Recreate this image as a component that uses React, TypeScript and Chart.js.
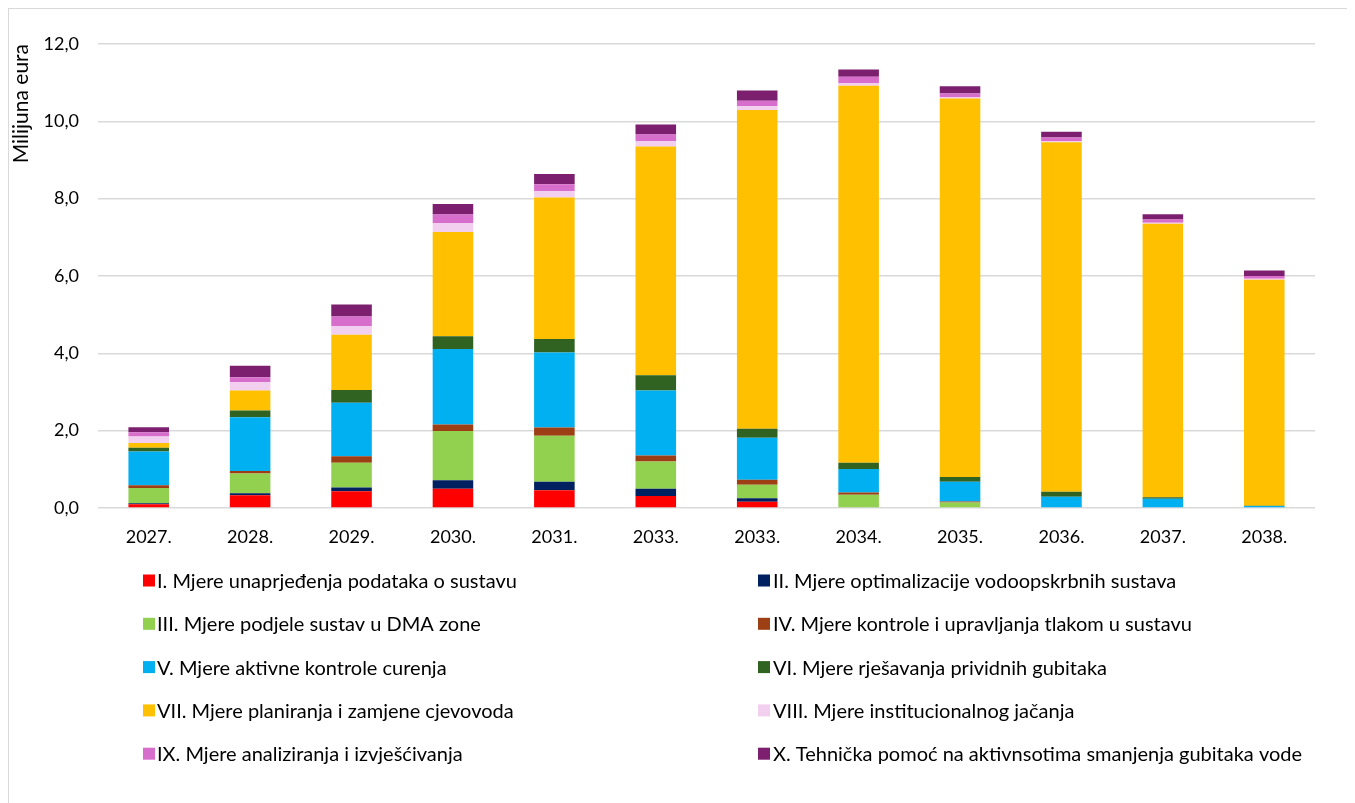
import React, { useEffect, useRef } from "react";
import { Chart, registerables } from "chart.js";

Chart.register(...registerables);

const years = ["2027.", "2028.", "2029.", "2030.", "2031.", "2033.", "2033.", "2034.", "2035.", "2036.", "2037.", "2038."];

const seriesNames = [
  "I. Mjere unaprjeđenja podataka o sustavu",
  "II. Mjere optimalizacije vodoopskrbnih sustava",
  "III. Mjere podjele sustav u DMA zone",
  "IV. Mjere kontrole i upravljanja tlakom u sustavu",
  "V. Mjere aktivne kontrole curenja",
  "VI. Mjere rješavanja prividnih gubitaka",
  "VII. Mjere planiranja i zamjene cjevovoda",
  "VIII. Mjere institucionalnog jačanja",
  "IX. Mjere analiziranja i izvješćivanja",
  "X. Tehnička pomoć na aktivnsotima smanjenja gubitaka vode",
];

const mjereI = [0.1, 0.33, 0.43, 0.5, 0.46, 0.31, 0.16, 0, 0, 0, 0, 0];
const mjereII = [0.02, 0.05, 0.1, 0.22, 0.22, 0.19, 0.09, 0, 0, 0, 0, 0];
const mjereIII = [0.4, 0.51, 0.64, 1.27, 1.19, 0.7, 0.35, 0.34, 0.14, 0.02, 0, 0];
const mjereIV = [0.07, 0.07, 0.17, 0.17, 0.21, 0.16, 0.13, 0.06, 0.03, 0, 0, 0];
const mjereV = [0.87, 1.39, 1.38, 1.95, 1.94, 1.68, 1.09, 0.61, 0.51, 0.27, 0.24, 0.05];
const mjereVI = [0.1, 0.17, 0.33, 0.33, 0.35, 0.39, 0.23, 0.16, 0.12, 0.13, 0.04, 0.01];
const mjereVII = [0.12, 0.52, 1.43, 2.7, 3.66, 5.92, 8.24, 9.75, 9.79, 9.04, 7.07, 5.84];
const mjereVIII = [0.17, 0.21, 0.23, 0.23, 0.16, 0.14, 0.1, 0.07, 0.04, 0.03, 0.03, 0.03];
const mjereIX = [0.11, 0.13, 0.24, 0.22, 0.18, 0.17, 0.14, 0.16, 0.09, 0.09, 0.08, 0.07];
const mjereX = [0.13, 0.3, 0.31, 0.27, 0.27, 0.26, 0.27, 0.19, 0.19, 0.15, 0.14, 0.14];

const seriesValues = [mjereI, mjereII, mjereIII, mjereIV, mjereV, mjereVI, mjereVII, mjereVIII, mjereIX, mjereX];

const seriesColors = [
  "#FF0000",
  "#002060",
  "#92D050",
  "#9C3F14",
  "#00B0F0",
  "#306221",
  "#FFC000",
  "#F2CEEF",
  "#D86ECC",
  "#7C1F6F",
];

const yTicks = [0, 2, 4, 6, 8, 10, 12];

const FONT = "Lato, 'Noto Sans', sans-serif";

const gridLegend = {
  id: "gridLegend",
  afterDraw(chart: any) {
    const ctx = chart.ctx;
    ctx.save();
    ctx.font = `20px ${FONT}`;
    ctx.textBaseline = "middle";
    ctx.textAlign = "left";
    const colBox = [134, 749];
    const colText = [148, 764];
    const rowStart = 571.5;
    const rowStep = 43.3;
    chart.data.datasets.forEach((ds: any, i: number) => {
      const row = Math.floor(i / 2);
      const col = i % 2;
      const cy = rowStart + row * rowStep;
      ctx.fillStyle = ds.backgroundColor;
      ctx.fillRect(colBox[col], cy - 6, 12, 12);
      ctx.fillStyle = "#000000";
      ctx.fillText(ds.label, colText[col], cy + 1);
    });
    ctx.restore();
  },
};

export default function App() {
  const canvasRef = useRef<HTMLCanvasElement | null>(null);

  useEffect(() => {
    document.documentElement.style.overflow = "hidden";
    document.body.style.overflow = "hidden";
    const canvas = canvasRef.current;
    if (!canvas) return;
    const chart = new Chart(canvas, {
      type: "bar",
      data: {
        labels: years,
        datasets: seriesNames.map((name, i) => ({
          label: name,
          data: seriesValues[i],
          backgroundColor: seriesColors[i],
          borderWidth: 0,
          barPercentage: 0.4,
          categoryPercentage: 1,
        })),
      },
      options: {
        animation: false,
        responsive: false,
        maintainAspectRatio: false,
        layout: { padding: { left: 0, right: 40, top: 35, bottom: 235 } },
        plugins: {
          legend: { display: false },
          tooltip: { enabled: false },
        },
        scales: {
          x: {
            stacked: true,
            grid: { display: false },
            border: { display: false },
            ticks: {
              color: "#000000",
              font: { family: FONT, size: 18 },
              padding: 10,
              maxRotation: 0,
              autoSkip: false,
            },
            afterFit: (scale: any) => {
              scale.height = 60;
            },
          },
          y: {
            stacked: true,
            min: 0,
            max: 12,
            afterBuildTicks: (scale: any) => {
              scale.ticks = yTicks.map((v) => ({ value: v }));
            },
            grid: { color: "#d9d9d9", lineWidth: 1.5, drawTicks: false },
            border: { display: false },
            ticks: {
              color: "#000000",
              font: { family: FONT, size: 18 },
              padding: 19,
              callback: (v: any) => Number(v).toFixed(1).replace(".", ","),
            },
            title: {
              display: true,
              text: "Milijuna eura",
              align: "end",
              color: "#000000",
              font: { family: FONT, size: 21 },
              padding: { top: 0, bottom: 0 },
            },
            afterFit: (scale: any) => {
              scale.width = 89;
            },
          },
        },
      },
      plugins: [gridLegend],
    });
    return () => chart.destroy();
  }, []);

  return (
    <div
      style={{
        width: 1347,
        height: 795,
        boxSizing: "border-box",
        borderLeft: "1px solid #d9d9d9",
        borderTop: "1px solid #d9d9d9",
        background: "#ffffff",
      }}
    >
      <canvas ref={canvasRef} width={1346} height={794} style={{ display: "block" }} />
    </div>
  );
}
